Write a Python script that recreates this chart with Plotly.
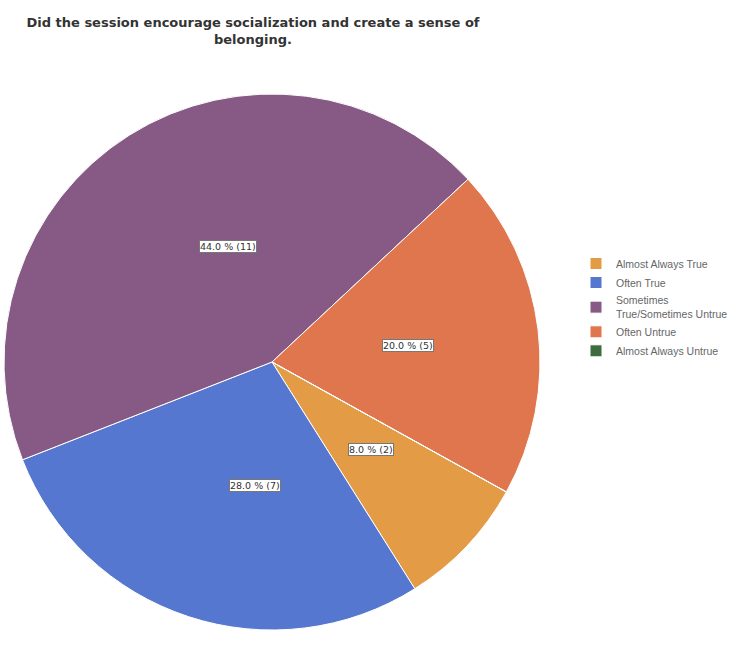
import math
import plotly.graph_objects as go

categories = ["Almost Always True", "Often True", "Sometimes<br>True/Sometimes Untrue",
              "Often Untrue", "Almost Always Untrue"]
counts = [2, 7, 11, 5, 0]
colors = ["#E39B45", "#5677D0", "#865A85", "#E0764E", "#3F6B3F"]

W, H = 746, 645
dom_x = [4 / W, 540 / W]
dom_y = [1 - 630 / H, 1 - 94 / H]
rotation = 119

fig = go.Figure(go.Pie(
    labels=categories, values=counts, sort=False, direction="clockwise",
    rotation=rotation, marker=dict(colors=colors, line=dict(color="white", width=1)),
    textinfo="none", hoverinfo="label+percent+value",
    domain=dict(x=dom_x, y=dom_y),
))

# value labels placed at mid-angle of each slice (derived from data)
total = sum(counts)
cx = (dom_x[0] + dom_x[1]) / 2
cy = (dom_y[0] + dom_y[1]) / 2
R_px = min((dom_x[1] - dom_x[0]) * W, (dom_y[1] - dom_y[0]) * H) / 2
ang = rotation
annotations = []
for c, v in zip(categories, counts):
    span = 360 * v / total
    if v > 0:
        mid = math.radians(ang + span / 2)
        r = 0.51 * R_px
        x = cx + r * math.sin(mid) / W
        y = cy + r * math.cos(mid) / H
        annotations.append(dict(
            x=x, y=y, xref="paper", yref="paper", showarrow=False,
            text=f"{100 * v / total:.1f} % ({v})",
            font=dict(size=9.5, color="#333", family="DejaVu Sans"),
            bgcolor="white", bordercolor="#777", borderwidth=1, borderpad=0,
        ))
    ang += span

fig.update_layout(
    width=W, height=H,
    margin=dict(l=0, r=0, t=0, b=0),
    paper_bgcolor="white",
    title=dict(
        text="<b>Did the session encourage socialization and create a sense of<br>belonging.</b>",
        x=253 / W, xanchor="center", y=1 - 27 / H, yanchor="top",
        font=dict(size=13, color="#333", family="DejaVu Sans"),
    ),
    legend=dict(
        x=576 / W, y=1 - 249 / H, xanchor="left", yanchor="top",
        font=dict(size=10.5, color="#666", family="Liberation Sans"),
        tracegroupgap=0, itemwidth=30,
    ),
    annotations=annotations,
)

fig.write_html("out.html", config={"displayModeBar": False},
               post_script="document.body.style.margin='0';")
